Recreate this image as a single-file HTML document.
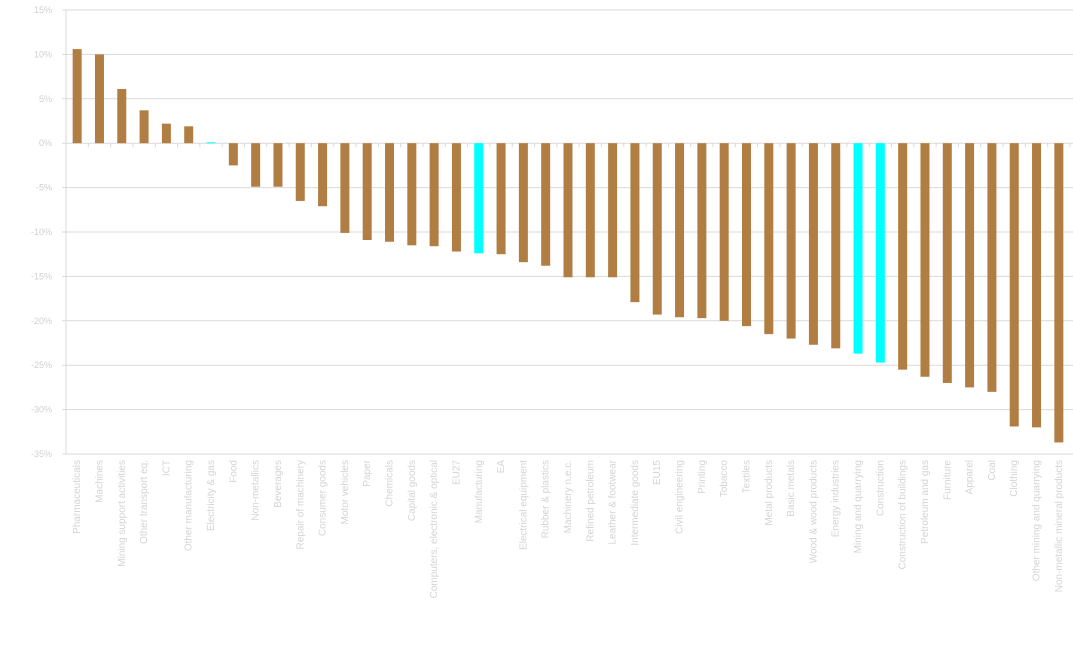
<!DOCTYPE html>
<html><head><meta charset="utf-8"><style>
html,body{margin:0;padding:0;background:#fff;}
svg{display:block;font-family:"Liberation Sans",sans-serif;}
</style></head><body>
<svg id="chart" width="1073" height="667" viewBox="0 0 1073 667"></svg>
<script>
const categories=["Pharmaceuticals","Machines","Mining support activities","Other transport eq.","ICT","Other manufacturing","Electricity & gas","Food","Non-metallics","Beverages","Repair of machinery","Consumer goods","Motor vehicles","Paper","Chemicals","Capital goods","Computers, electronic & optical","EU27","Manufacturing","EA","Electrical equipment","Rubber & plastics","Machinery n.e.c.","Refined petroleum","Leather & footwear","Intermediate goods","EU15","Civil engineering","Printing","Tobacco","Textiles","Metal products","Basic metals","Wood & wood products","Energy industries","Mining and quarrying","Construction","Construction of buildings","Petroleum and gas","Furniture","Apparel","Coal","Clothing","Other mining and quarrying","Non-metallic mineral products"];
const values=[10.6,10.0,6.1,3.7,2.2,1.9,0.1,-2.5,-4.9,-4.9,-6.5,-7.1,-10.1,-10.9,-11.1,-11.5,-11.6,-12.2,-12.4,-12.5,-13.4,-13.8,-15.1,-15.1,-15.1,-17.9,-19.3,-19.6,-19.7,-20.0,-20.6,-21.5,-22.0,-22.7,-23.1,-23.7,-24.7,-25.5,-26.3,-27.0,-27.5,-28.0,-31.9,-32.0,-33.7];
const highlighted=["Electricity & gas","Manufacturing","Mining and quarrying","Construction"];
const yTicks=[15,10,5,0,-5,-10,-15,-20,-25,-30,-35];
const NS="http://www.w3.org/2000/svg";
const svg=document.getElementById("chart");
const L=66,R=1070,yTop=10,yBot=454,vMax=15,vMin=-35;
const y=v=>yTop+(vMax-v)/(vMax-vMin)*(yBot-yTop);
const band=(R-L)/categories.length;
const x=i=>L+band*(i+0.5);
function mk(t,a){const e=document.createElementNS(NS,t);for(const k in a)e.setAttribute(k,a[k]);svg.appendChild(e);return e;}
yTicks.forEach(t=>{
  const g=mk("line",{x1:L-4,x2:R+3,y1:y(t),y2:y(t),stroke:"#d9d9d9","stroke-width":1});
  
  
  const tx=mk("text",{x:L-14,y:y(t)+3,"text-anchor":"end","font-size":9,fill:"#d0d0d0"});
  tx.textContent=t+"%";
  
  
});
const ax=mk("line",{x1:L,x2:L,y1:yTop,y2:yBot,stroke:"#d9d9d9"});


categories.forEach((c,i)=>{
  const v=values[i];
  const r=mk("rect",{x:x(i)-4.5,width:9,y:Math.min(y(v),y(0)),height:Math.max(Math.abs(y(v)-y(0)),1),fill:highlighted.includes(c)?"#00ffff":"#b07d42"});
  
  
  const tk=mk("line",{x1:L+band*(i+1),x2:L+band*(i+1),y1:y(0),y2:y(0)+4,stroke:"#d9d9d9"});
  
  
  const tx=mk("text",{x:0,y:0,"text-anchor":"end","font-size":10,fill:"#d4d4d4",transform:`translate(${x(i)+3},${yBot+6}) rotate(-90)`});
  tx.textContent=c;
  
  
});
</script>
</body></html>
